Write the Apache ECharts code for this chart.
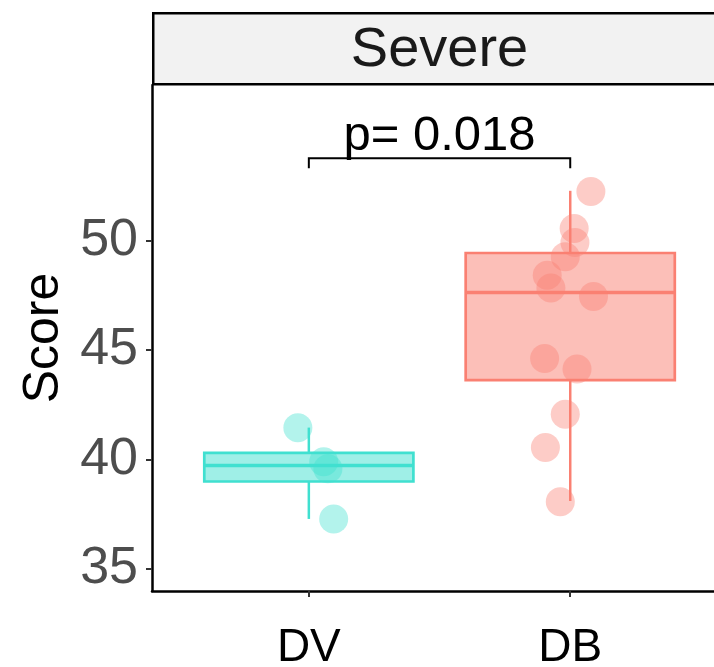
<!DOCTYPE html>
<html>
<head>
<meta charset="utf-8">
<script src="https://cdn.jsdelivr.net/npm/echarts@6/dist/echarts.min.js"></script>
<style>
  html, body { margin: 0; padding: 0; background: #fff; }
  #main { width: 714px; height: 667px; }
</style>
</head>
<body>
<div id="main"></div>
<script>
// groups on the x axis (positions 1 and 2)
var categories = ['DV', 'DB'];
var panelTitle = 'Severe';
var pLabel = 'p= 0.018';
var yTicks = [35, 40, 45, 50];

// box stats: min, Q1, median, Q3, max
var boxMin    = [37.28, 38.10];
var boxQ1     = [38.99, 43.62];
var boxMedian = [39.72, 47.62];
var boxQ3     = [40.30, 49.42];
var boxMax    = [41.45, 52.26];

// jittered points
var dvX = [0.958, 1.057, 1.073, 1.095];
var dvY = [41.44, 39.89, 39.57, 37.28];
var dbX = [2.079, 2.015, 2.018, 1.981, 1.912, 1.926, 2.089, 1.902, 2.026, 1.981, 1.905, 1.962];
var dbY = [52.23, 50.54, 49.90, 49.25, 48.41, 47.82, 47.43, 44.60, 44.12, 42.06, 40.54, 38.07];

// comparison bracket: x from, x to, top, tick end
var bracket = [1, 2, 53.75, 53.29];

var lineCols = ['#40E0D0', '#FA8072'];
var fillCols = ['rgba(64,224,208,0.5)', 'rgba(250,128,114,0.5)'];

var chart = echarts.init(document.getElementById('main'));

var boxData = categories.map(function (c, i) {
    return [i + 1, boxMin[i], boxQ1[i], boxMedian[i], boxQ3[i], boxMax[i]];
});

function renderBox(params, api) {
    var i = params.dataIndex;
    var x = api.value(0);
    var tl = api.coord([x - 0.4, api.value(4)]);
    var br = api.coord([x + 0.4, api.value(2)]);
    var med = api.coord([x, api.value(3)]);
    var top = api.coord([x, api.value(5)]);
    var bot = api.coord([x, api.value(1)]);
    var lc = lineCols[i];
    return {
        type: 'group',
        children: [
            {type: 'line', shape: {x1: top[0], y1: top[1], x2: top[0], y2: tl[1]},
             style: {stroke: lc, lineWidth: 2.5}},
            {type: 'line', shape: {x1: bot[0], y1: br[1], x2: bot[0], y2: bot[1]},
             style: {stroke: lc, lineWidth: 2.5}},
            {type: 'rect', shape: {x: tl[0], y: tl[1], width: br[0] - tl[0], height: br[1] - tl[1]},
             style: {fill: fillCols[i], stroke: lc, lineWidth: 2.7}},
            {type: 'line', shape: {x1: tl[0], y1: med[1], x2: br[0], y2: med[1]},
             style: {stroke: lc, lineWidth: 3.5}}
        ]
    };
}

function renderBracket(params, api) {
    var a = api.coord([api.value(0), api.value(2)]);
    var b = api.coord([api.value(1), api.value(2)]);
    var e = api.coord([api.value(0), api.value(3)]);
    return {
        type: 'group',
        children: [
            {type: 'polyline', shape: {points: [[a[0], e[1]], [a[0], a[1]], [b[0], b[1]], [b[0], e[1]]]},
             style: {stroke: '#000', lineWidth: 2, fill: 'none'}},
            {type: 'text', style: {text: pLabel, x: (a[0] + b[0]) / 2, y: a[1] + 3,
             textAlign: 'center', textVerticalAlign: 'bottom',
             font: '49px "Liberation Sans", Arial, sans-serif', fill: '#000'}}
        ]
    };
}

function pts(xs, ys) {
    return xs.map(function (x, i) { return [x, ys[i]]; });
}

chart.setOption({
    animation: false,
    backgroundColor: '#fff',
    grid: {left: 152, right: 0, top: 85, bottom: 76, containLabel: false, outerBoundsMode: 'none'},
    graphic: [
        {type: 'rect', left: 152, top: 12, z: 10,
         shape: {x: 0, y: 0, width: 600, height: 71},
         style: {fill: '#f2f2f2', stroke: '#000', lineWidth: 2.5}},
        {type: 'text', x: 439.5, y: 51, z: 11,
         style: {text: panelTitle, textAlign: 'center', textVerticalAlign: 'middle',
                 font: '56px "Liberation Sans", Arial, sans-serif', fill: '#1a1a1a'}}
    ],
    xAxis: {
        type: 'value', min: 0.4, max: 2.55,
        splitLine: {show: false},
        axisLine: {show: true, onZero: false, lineStyle: {color: '#000', width: 2.5}},
        axisTick: {show: true, length: 6, customValues: [1, 2], lineStyle: {color: '#333', width: 2}},
        axisLabel: {
            customValues: [1, 2], margin: 34,
            fontSize: 46, fontFamily: '"Liberation Sans", Arial, sans-serif', color: '#000',
            formatter: function (v) { return categories[Math.round(v) - 1]; }
        }
    },
    yAxis: {
        type: 'value', min: 33.99, max: 57.09,
        name: 'Score', nameLocation: 'middle', nameRotate: 90, nameGap: 80,
        nameTextStyle: {fontSize: 50, fontFamily: '"Liberation Sans", Arial, sans-serif', color: '#000'},
        splitLine: {show: false},
        axisLine: {show: true, onZero: false, lineStyle: {color: '#000', width: 2.5}},
        axisTick: {show: true, length: 6, customValues: yTicks, lineStyle: {color: '#333', width: 2}},
        axisLabel: {
            customValues: yTicks, margin: 14,
            fontSize: 52, fontFamily: '"Liberation Sans", Arial, sans-serif', color: '#4d4d4d'
        }
    },
    series: [
        {type: 'custom', renderItem: renderBox, data: boxData, z: 2,
         encode: {x: 0, y: [1, 2, 3, 4, 5]}},
        {type: 'scatter', data: pts(dvX, dvY), symbolSize: 29, z: 3,
         itemStyle: {color: fillCols[0]}},
        {type: 'scatter', data: pts(dbX, dbY), symbolSize: 29, z: 3,
         itemStyle: {color: fillCols[1]}},
        {type: 'custom', renderItem: renderBracket, data: [bracket], z: 4, clip: false,
         encode: {x: [0, 1], y: [2, 3]}}
    ]
});
</script>
</body>
</html>
